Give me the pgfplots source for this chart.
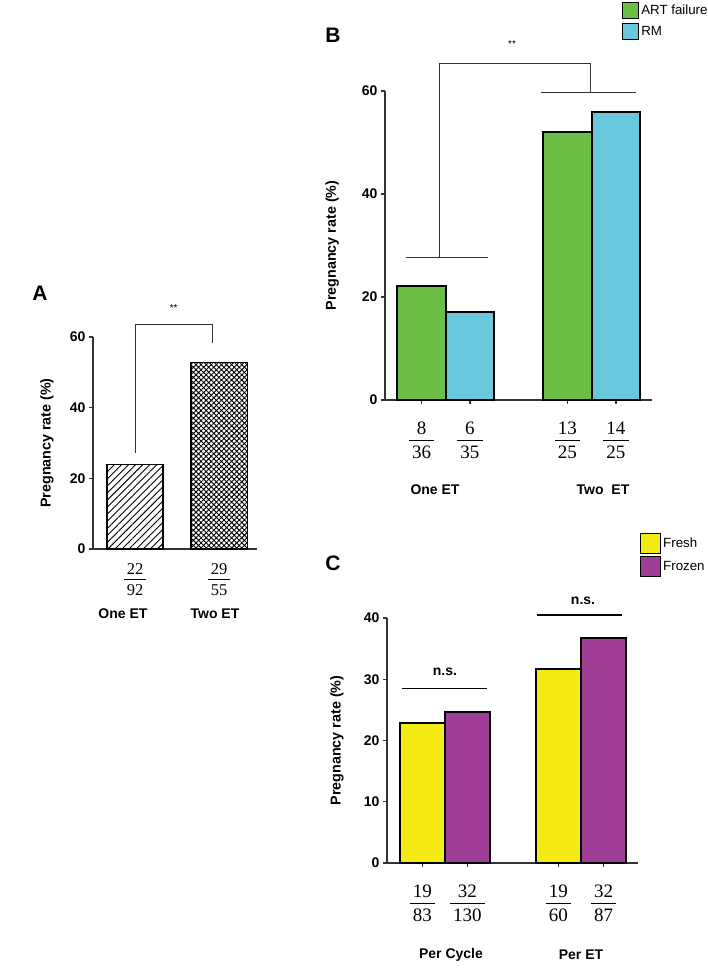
\documentclass[border=0pt]{standalone}
\usepackage{amsmath}
\usepackage{pgfplots}
\pgfplotsset{compat=1.18}
\usepackage{fontspec}
\setmainfont{Liberation Sans}
\newfontfamily\frfont{Liberation Serif}
\usetikzlibrary{patterns.meta}
\definecolor{artgreen}{RGB}{108,190,69}
\definecolor{rmcyan}{RGB}{104,200,220}
\definecolor{freshyellow}{RGB}{245,235,20}
\definecolor{frozenpurple}{RGB}{160,62,150}
\newcommand{\tl}{\fontsize{14}{16}\selectfont\bfseries}
\newcommand{\gl}{\fontsize{14}{16}\selectfont\bfseries}
\newcommand{\fr}[2]{\begin{tabular}{@{}c@{}}\frfont\,#1\,\\[-1pt]\hline\rule{0pt}{1.0em}\frfont\,#2\,\end{tabular}}
\pgfplotsset{
  panel/.style={
    scale only axis,
    axis lines*=left,
    axis line style={line width=1.2pt, black!80},
    ymin=0,
    ytick style={line width=1.2pt, black!80},
    xtick style={line width=1.2pt, black!80},
    tick align=outside,
    major tick length=4pt,
    /pgf/number format/assume math mode=true,
    yticklabel style={font=\tl},
    ylabel style={font=\fontsize{14.3}{16}\selectfont\bfseries, anchor=center},
    clip=false,
  },
}
\begin{document}
\begin{tikzpicture}
\useasboundingbox (0pt,0pt) rectangle (708pt,968pt);
% ---------------- Panel A ----------------
\begin{axis}[panel,
  at={(93pt,419pt)}, anchor=south west,
  width=164pt, height=212pt,
  xmin=0.5, xmax=2.45, ymax=60,
  ytick={0,20,40,60},
  xtick={1,2}, xticklabels={\fr{22}{92},\fr{29}{55}},
  major x tick style={draw=none},
  xticklabel style={font=\fontsize{16.5}{18}\selectfont, yshift=-5pt},
  ylabel={Pregnancy rate (\%)},
  ylabel style={at={(axis description cs:-0.28,0.5)}},
  ybar, bar width=0.667,
]
\addplot[draw=black, line width=1.4pt, pattern={Lines[angle=45,distance=5pt,line width=0.9pt]}, bar shift=0] coordinates {(1,23.9)};
\addplot[draw=black, line width=1.4pt, pattern={Hatch[angle=45,distance=3.6pt,line width=0.9pt]}, bar shift=0] coordinates {(2,52.7)};
\draw[line width=1pt, black!80] (axis cs:1.01,27.2) -- (axis cs:1.01,63.4) -- (axis cs:1.915,63.4) -- (axis cs:1.915,58.3);
\node[font=\fontsize{10}{12}\selectfont] at (axis cs:1.46,68.2) {**};
\end{axis}
\node[font=\gl] at (123pt,354pt) {One ET};
\node[font=\gl] at (215pt,354pt) {Two ET};
\node[font=\fontsize{21}{24}\selectfont\bfseries] at (40pt,675pt) {A};
% ---------------- Panel B ----------------
\begin{axis}[panel,
  at={(385pt,568pt)}, anchor=south west,
  width=267pt, height=309pt,
  xmin=0.584, xmax=2.413, ymax=60,
  ytick={0,20,40,60},
  xtick={0.834,1.166,1.834,2.166},
  xticklabels={\fr{8}{36},\fr{6}{35},\fr{13}{25},\fr{14}{25}},
  xticklabel style={font=\fontsize{19}{21}\selectfont, yshift=-12pt},
  ylabel={Pregnancy rate (\%)},
  ylabel style={at={(axis description cs:-0.198,0.5)}},
  ybar, bar width=0.332,
  legend style={at={(0.888,1.288)}, anchor=north west, draw=none, fill=none,
    inner sep=0pt, font=\fontsize{13.3}{15}\selectfont, row sep=4pt,
    /tikz/every even column/.append style={column sep=4pt}},
  legend cell align=left,
  legend image code/.code={\draw[#1, line width=1pt] (0pt,-8pt) rectangle (16pt,8pt);},
]
\addplot[draw=black, fill=artgreen, line width=2pt, bar shift=-0.166] coordinates {(1,22.2) (2,52.0)};
\addplot[draw=black, fill=rmcyan, line width=2pt, bar shift=0.166] coordinates {(1,17.1) (2,56.0)};
\legend{ART failure, RM}
\draw[line width=1pt, black!80] (axis cs:0.728,27.6) -- (axis cs:1.289,27.6);
\draw[line width=1pt, black!80] (axis cs:0.96,27.6) -- (axis cs:0.96,65.4) -- (axis cs:1.995,65.4) -- (axis cs:1.995,59.8);
\draw[line width=1pt, black!80] (axis cs:1.652,59.8) -- (axis cs:2.303,59.8);
\node[font=\fontsize{10}{12}\selectfont] at (axis cs:1.454,69.1) {**};
\end{axis}
\node[font=\gl] at (435pt,478pt) {One ET};
\node[font=\gl] at (603pt,478pt) {Two\ \ ET};
\node[font=\fontsize{21}{24}\selectfont\bfseries] at (333pt,933pt) {B};
% ---------------- Panel C ----------------
\begin{axis}[panel,
  at={(387pt,105pt)}, anchor=south west,
  width=251pt, height=245pt,
  xmin=0.574, xmax=2.419, ymax=40,
  ytick={0,10,20,30,40},
  xtick={0.8345,1.1655,1.8345,2.1655},
  xticklabels={\fr{19}{83},\fr{32}{130},\fr{19}{60},\fr{32}{87}},
  xticklabel style={font=\fontsize{19}{21}\selectfont, yshift=-12pt},
  ylabel={Pregnancy rate (\%)},
  ylabel style={at={(axis description cs:-0.199,0.5)}},
  ybar, bar width=0.331,
  legend style={at={(1.008,1.347)}, anchor=north west, draw=none, fill=none,
    inner sep=0pt, font=\fontsize{13.3}{15}\selectfont, row sep=2pt,
    /tikz/every even column/.append style={column sep=4pt}},
  legend cell align=left,
  legend image code/.code={\draw[#1, line width=1pt] (0pt,-10pt) rectangle (20pt,10pt);},
]
\addplot[draw=black, fill=freshyellow, line width=2pt, bar shift=-0.1655] coordinates {(1,22.9) (2,31.7)};
\addplot[draw=black, fill=frozenpurple, line width=2pt, bar shift=0.1655] coordinates {(1,24.6) (2,36.8)};
\legend{Fresh, Frozen}
\draw[line width=1.2pt, black] (axis cs:0.684,28.5) -- (axis cs:1.309,28.5);
\node[font=\fontsize{14}{16}\selectfont\bfseries] at (axis cs:1.0,31.2) {n.s.};
\draw[line width=1.2pt, black] (axis cs:1.677,40.5) -- (axis cs:2.302,40.5);
\node[font=\fontsize{14}{16}\selectfont\bfseries] at (axis cs:2.015,42.8) {n.s.};
\end{axis}
\node[font=\gl] at (451pt,13pt) {Per Cycle};
\node[font=\gl] at (581pt,13pt) {Per ET};
\node[font=\fontsize{21}{24}\selectfont\bfseries] at (333pt,405pt) {C};
\end{tikzpicture}
\end{document}
